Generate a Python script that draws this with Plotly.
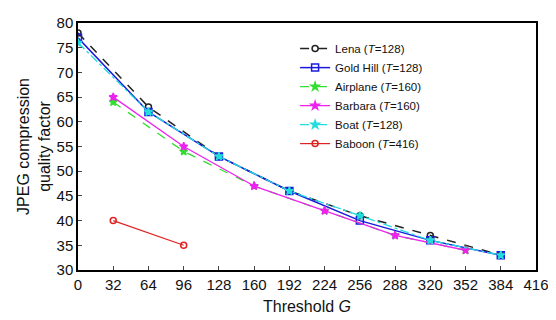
import plotly.graph_objects as go

lena_x = [0, 64, 128, 192, 256, 320, 384]
lena_y = [78, 63, 53, 46, 41, 37, 33]
gold_x = [0, 64, 128, 192, 256, 320, 384]
gold_y = [77, 62, 53, 46, 40, 36, 33]
air_x = [32, 96, 160, 224, 288, 352]
air_y = [64, 54, 47, 42, 37, 34]
barb_x = [32, 96, 160, 224, 288, 352]
barb_y = [65, 55, 47, 42, 37, 34]
boat_x = [0, 64, 128, 192, 256, 320, 384]
boat_y = [76, 62, 53, 46, 41, 36, 33]
bab_x = [32, 96]
bab_y = [40, 35]
x_ticks = [0, 32, 64, 96, 128, 160, 192, 224, 256, 288, 320, 352, 384, 416]
y_ticks = [30, 35, 40, 45, 50, 55, 60, 65, 70, 75, 80]

series = [
    ("Lena (<i>T</i>=128)", lena_x, lena_y, "#222222", "dash", "circle-open", 1.5, 6),
    ("Gold Hill (<i>T</i>=128)", gold_x, gold_y, "#1a1adf", "solid", "square-open", 1.5, 7),
    ("Airplane (<i>T</i>=160)", air_x, air_y, "#33dd33", "dash", "star", 1.3, 6),
    ("Barbara (<i>T</i>=160)", barb_x, barb_y, "#ee22ee", "solid", "star", 1.3, 6),
    ("Boat (<i>T</i>=128)", boat_x, boat_y, "#22dddd", "dashdot", "star", 1.3, 6),
    ("Baboon (<i>T</i>=416)", bab_x, bab_y, "#e02222", "solid", "circle-open", 1.2, 6),
]

fig = go.Figure()
for name, xs, ys, col, dash, sym, w, ms in series:
    fig.add_trace(go.Scatter(
        x=xs, y=ys, name=name, mode="lines+markers",
        line=dict(color=col, dash=dash, width=w),
        marker=dict(symbol=sym, size=ms, color=col, line=dict(color=col, width=1.5)),
    ))

fig.update_layout(
    width=548, height=312,
    margin=dict(l=70, r=20, t=15, b=50, autoexpand=False),
    paper_bgcolor="white", plot_bgcolor="white",
    font=dict(family="Liberation Sans, Arial", size=15, color="#111"),
    legend=dict(x=0.474, y=0.955, xanchor="left", yanchor="top",
                bgcolor="rgba(255,255,255,0)", font=dict(size=11.5),
                itemwidth=30, tracegroupgap=0),
    xaxis=dict(range=[0, 416], tickvals=x_ticks, ticks="inside", ticklen=4,
               showline=True, linecolor="black", linewidth=1.5, mirror=True,
               showgrid=False, zeroline=False, automargin=False,
               title=dict(text="Threshold <i>G</i>", standoff=9, font=dict(size=16))),
    yaxis=dict(range=[30, 80], tickvals=y_ticks, ticks="inside", ticklen=4,
               showline=True, linecolor="black", linewidth=1.5, mirror=True,
               showgrid=False, zeroline=False, automargin=False,
               title=dict(text="JPEG compression<br>quality factor", standoff=2, font=dict(size=16))),
)

fig.write_html("out.html")
